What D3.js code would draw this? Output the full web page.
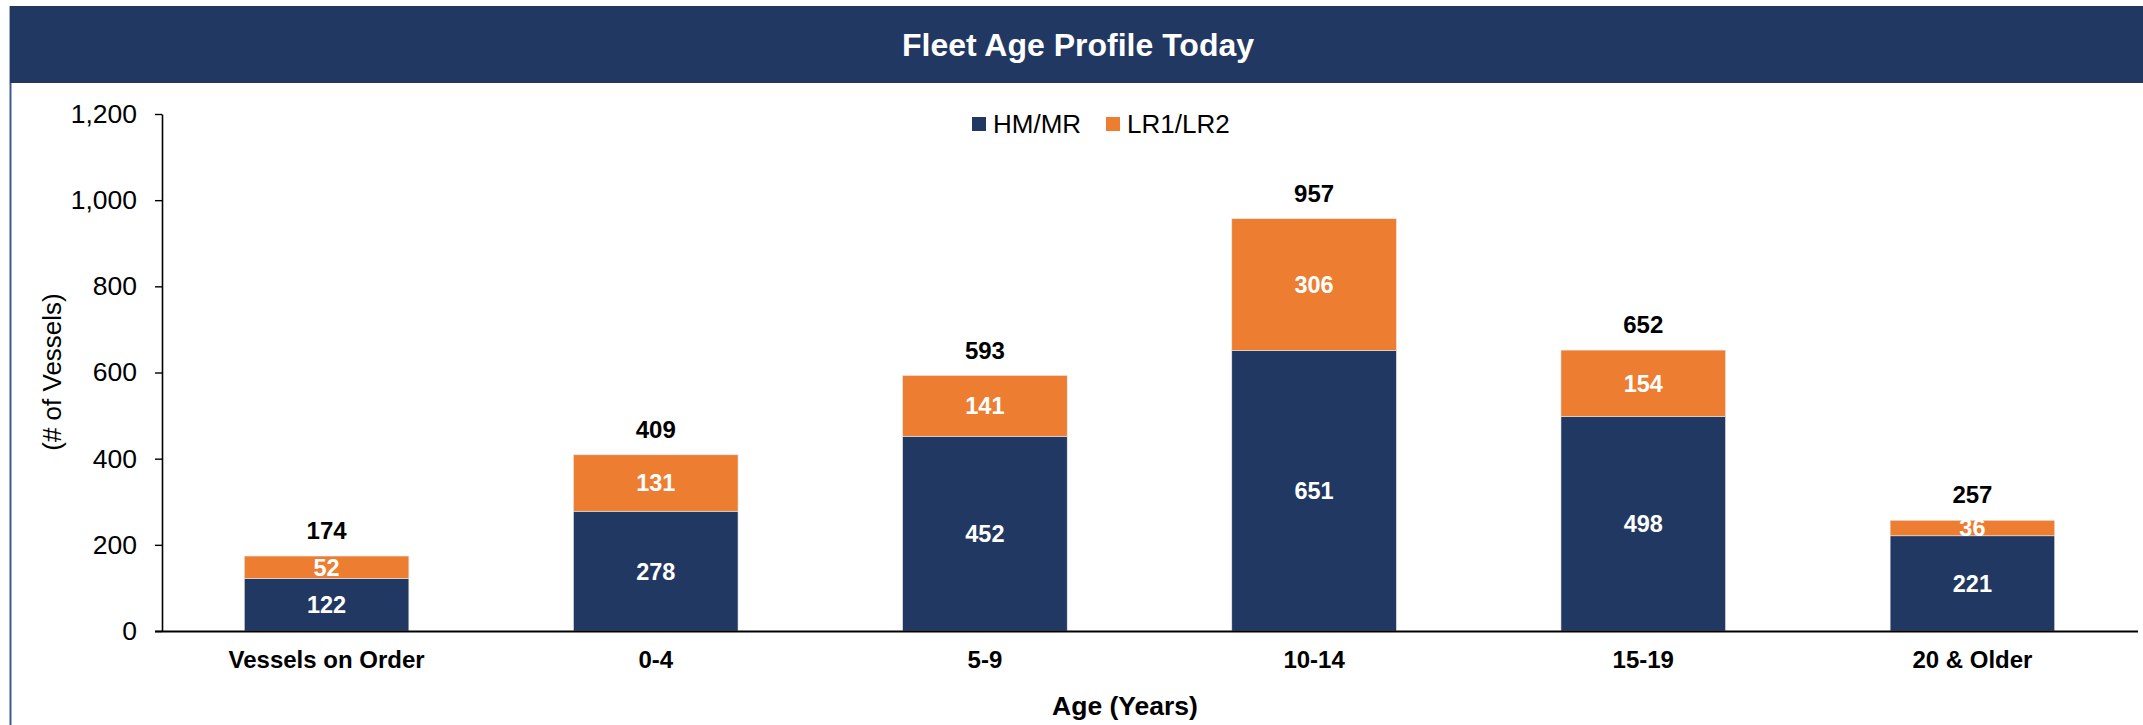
<!DOCTYPE html>
<html>
<head>
<meta charset="utf-8">
<script src="https://cdn.jsdelivr.net/npm/d3@7"></script>
<style>
  html, body { margin: 0; padding: 0; background: #fff; }
  svg { display: block; font-family: "Liberation Sans", Arial, sans-serif; }
</style>
</head>
<body>
<svg id="chart"></svg>
<script>
// chart data
var categories = ["Vessels on Order", "0-4", "5-9", "10-14", "15-19", "20 & Older"];
var hmMr = [122, 278, 452, 651, 498, 221];
var lr1Lr2 = [52, 131, 141, 306, 154, 36];
var seriesNames = ["HM/MR", "LR1/LR2"];
var yTicks = [0, 200, 400, 600, 800, 1000, 1200];

var width = 2143,
    height = 725;

var navy = "#213862",
    orange = "#ED7D31";

var svg = d3.select("#chart")
    .attr("width", width)
    .attr("height", height);

// panel frame + header band
svg.append("line")
    .attr("x1", 10.5).attr("x2", 10.5)
    .attr("y1", 6).attr("y2", height)
    .attr("stroke", "#3d5b8c")
    .attr("stroke-width", 2);

svg.append("rect")
    .attr("x", 10).attr("y", 6)
    .attr("width", width - 10).attr("height", 77)
    .attr("fill", navy);

svg.append("text")
    .attr("x", 1078).attr("y", 56)
    .attr("text-anchor", "middle")
    .attr("fill", "#fff")
    .style("font-size", "32px")
    .style("font-weight", "bold")
    .text("Fleet Age Profile Today");

// scales
var x = d3.scaleBand()
    .domain(categories)
    .range([162, 2137])
    .paddingInner(0.5)
    .paddingOuter(0.25);

var y = d3.scaleLinear()
    .domain([0, 1200])
    .range([631, 114]);

// stack the two series
var rows = categories.map(function(c, i) {
  return { cat: c, "HM/MR": hmMr[i], "LR1/LR2": lr1Lr2[i] };
});
var stacked = d3.stack().keys(seriesNames)(rows);
var color = d3.scaleOrdinal().domain(seriesNames).range([navy, orange]);

var layers = svg.selectAll("g.layer")
    .data(stacked)
    .enter().append("g")
    .attr("class", "layer")
    .attr("fill", function(d) { return color(d.key); });

layers.selectAll("rect")
    .data(function(d) { return d; })
    .enter().append("rect")
    .attr("x", function(d) { return x(d.data.cat); })
    .attr("y", function(d) { return y(d[1]); })
    .attr("width", x.bandwidth())
    .attr("height", function(d) { return y(d[0]) - y(d[1]); })
    .attr("stroke", "#e8e8e8")
    .attr("stroke-width", 0.6);

// segment labels (white, centred in each segment)
layers.selectAll("text")
    .data(function(d) { return d; })
    .enter().append("text")
    .attr("x", function(d) { return x(d.data.cat) + x.bandwidth() / 2; })
    .attr("y", function(d) { return (y(d[0]) + y(d[1])) / 2; })
    .attr("dy", "0.36em")
    .attr("text-anchor", "middle")
    .attr("fill", "#fff")
    .style("font-size", "23.5px")
    .style("font-weight", "bold")
    .text(function(d) { return d[1] - d[0]; });

// totals above bars
var topLayer = stacked[stacked.length - 1];
svg.selectAll("text.total")
    .data(topLayer)
    .enter().append("text")
    .attr("class", "total")
    .attr("x", function(d) { return x(d.data.cat) + x.bandwidth() / 2; })
    .attr("y", function(d) { return y(d[1]) - 17; })
    .attr("text-anchor", "middle")
    .attr("fill", "#000")
    .style("font-size", "24px")
    .style("font-weight", "bold")
    .text(function(d) { return d[1]; });

// y axis
var yAxis = svg.append("g")
    .attr("transform", "translate(162,0)")
    .call(d3.axisLeft(y)
      .tickValues(yTicks)
      .tickFormat(d3.format(","))
      .tickSize(7)
      .tickSizeOuter(0)
      .tickPadding(18));

yAxis.select(".domain").attr("stroke", "#000").attr("stroke-width", 1.6);
yAxis.selectAll(".tick line").attr("stroke", "#000").attr("stroke-width", 1.4);
yAxis.selectAll(".tick text")
    .attr("fill", "#000")
    .style("font-size", "26.5px")
    .style("font-family", "'Liberation Sans', Arial, sans-serif");

// x axis baseline + category labels
svg.append("line")
    .attr("x1", 155).attr("x2", 2138)
    .attr("y1", y(0) + 0.5).attr("y2", y(0) + 0.5)
    .attr("stroke", "#000")
    .attr("stroke-width", 2);

svg.selectAll("text.cat")
    .data(categories)
    .enter().append("text")
    .attr("class", "cat")
    .attr("x", function(d) { return x(d) + x.bandwidth() / 2; })
    .attr("y", 668)
    .attr("text-anchor", "middle")
    .attr("fill", "#000")
    .style("font-size", "24px")
    .style("font-weight", "bold")
    .text(function(d) { return d; });

// axis titles
svg.append("text")
    .attr("x", 1125).attr("y", 715)
    .attr("text-anchor", "middle")
    .attr("fill", "#000")
    .style("font-size", "26.5px")
    .style("font-weight", "bold")
    .text("Age (Years)");

svg.append("text")
    .attr("transform", "translate(61,372) rotate(-90)")
    .attr("text-anchor", "middle")
    .attr("fill", "#000")
    .style("font-size", "26px")
    .text("(# of Vessels)");

// legend
var legendPos = [972, 1106];
var legend = svg.selectAll("g.legend")
    .data(seriesNames)
    .enter().append("g")
    .attr("class", "legend")
    .attr("transform", function(d, i) { return "translate(" + legendPos[i] + ",117)"; });

legend.append("rect")
    .attr("width", 14).attr("height", 14)
    .attr("fill", function(d) { return color(d); });

legend.append("text")
    .attr("x", 21).attr("y", 16)
    .attr("fill", "#000")
    .style("font-size", "26px")
    .text(function(d) { return d; });
</script>
</body>
</html>
